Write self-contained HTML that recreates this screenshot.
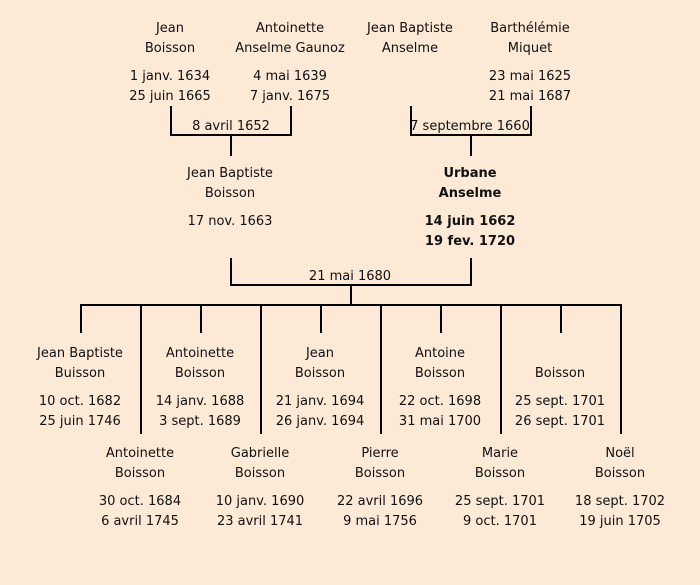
<!DOCTYPE html>
<html><head><meta charset="utf-8"><style>
body{margin:0;width:700px;height:585px;background:#fce9d6;position:relative;overflow:hidden;font-family:"Comic Sans MS","DejaVu Sans",sans-serif;font-size:13px;color:#111}
.t{position:absolute;width:160px;text-align:center;line-height:20px;white-space:nowrap;margin-top:2px}
.b{font-weight:bold}
.l{position:absolute;background:#000}
</style></head><body>
<!-- top row -->
<div class="t" style="left:90px;top:17px">Jean<br>Boisson</div>
<div class="t" style="left:90px;top:65px">1 janv. 1634<br>25 juin 1665</div>
<div class="t" style="left:210px;top:17px">Antoinette<br>Anselme Gaunoz</div>
<div class="t" style="left:210px;top:65px">4 mai 1639<br>7 janv. 1675</div>
<div class="t" style="left:330px;top:17px">Jean Baptiste<br>Anselme</div>
<div class="t" style="left:450px;top:17px">Barthélémie<br>Miquet</div>
<div class="t" style="left:450px;top:65px">23 mai 1625<br>21 mai 1687</div>

<div class="l" style="left:170px;top:106px;width:2px;height:30px"></div>
<div class="l" style="left:290px;top:106px;width:2px;height:30px"></div>
<div class="l" style="left:170px;top:134px;width:122px;height:2px"></div>
<div class="l" style="left:230px;top:134px;width:2px;height:22px"></div>
<div class="t" style="left:151px;top:115px">8 avril 1652</div>

<div class="l" style="left:410px;top:106px;width:2px;height:30px"></div>
<div class="l" style="left:530px;top:106px;width:2px;height:30px"></div>
<div class="l" style="left:410px;top:134px;width:122px;height:2px"></div>
<div class="l" style="left:470px;top:134px;width:2px;height:22px"></div>
<div class="t" style="left:390px;top:115px">7 septembre 1660</div>

<!-- middle -->
<div class="t" style="left:150px;top:162px">Jean Baptiste<br>Boisson</div>
<div class="t" style="left:150px;top:210px">17 nov. 1663</div>
<div class="t b" style="left:390px;top:162px">Urbane<br>Anselme</div>
<div class="t b" style="left:390px;top:210px">14 juin 1662<br>19 fev. 1720</div>

<div class="l" style="left:230px;top:258px;width:2px;height:28px"></div>
<div class="l" style="left:470px;top:258px;width:2px;height:28px"></div>
<div class="l" style="left:230px;top:284px;width:242px;height:2px"></div>
<div class="t" style="left:270px;top:265px">21 mai 1680</div>
<div class="l" style="left:350px;top:284px;width:2px;height:22px"></div>
<div class="l" style="left:80px;top:304px;width:542px;height:2px"></div>

<div class="l" style="left:80px;top:304px;width:2px;height:29px"></div>
<div class="l" style="left:200px;top:304px;width:2px;height:29px"></div>
<div class="l" style="left:320px;top:304px;width:2px;height:29px"></div>
<div class="l" style="left:440px;top:304px;width:2px;height:29px"></div>
<div class="l" style="left:560px;top:304px;width:2px;height:29px"></div>
<div class="l" style="left:140px;top:304px;width:2px;height:130px"></div>
<div class="l" style="left:260px;top:304px;width:2px;height:130px"></div>
<div class="l" style="left:380px;top:304px;width:2px;height:130px"></div>
<div class="l" style="left:500px;top:304px;width:2px;height:130px"></div>
<div class="l" style="left:620px;top:304px;width:2px;height:130px"></div>

<!-- children row 1 -->
<div class="t" style="left:0px;top:342px">Jean Baptiste<br>Buisson</div>
<div class="t" style="left:0px;top:390px">10 oct. 1682<br>25 juin 1746</div>
<div class="t" style="left:120px;top:342px">Antoinette<br>Boisson</div>
<div class="t" style="left:120px;top:390px">14 janv. 1688<br>3 sept. 1689</div>
<div class="t" style="left:240px;top:342px">Jean<br>Boisson</div>
<div class="t" style="left:240px;top:390px">21 janv. 1694<br>26 janv. 1694</div>
<div class="t" style="left:360px;top:342px">Antoine<br>Boisson</div>
<div class="t" style="left:360px;top:390px">22 oct. 1698<br>31 mai 1700</div>
<div class="t" style="left:480px;top:362px">Boisson</div>
<div class="t" style="left:480px;top:390px">25 sept. 1701<br>26 sept. 1701</div>

<!-- children row 2 -->
<div class="t" style="left:60px;top:442px">Antoinette<br>Boisson</div>
<div class="t" style="left:60px;top:490px">30 oct. 1684<br>6 avril 1745</div>
<div class="t" style="left:180px;top:442px">Gabrielle<br>Boisson</div>
<div class="t" style="left:180px;top:490px">10 janv. 1690<br>23 avril 1741</div>
<div class="t" style="left:300px;top:442px">Pierre<br>Boisson</div>
<div class="t" style="left:300px;top:490px">22 avril 1696<br>9 mai 1756</div>
<div class="t" style="left:420px;top:442px">Marie<br>Boisson</div>
<div class="t" style="left:420px;top:490px">25 sept. 1701<br>9 oct. 1701</div>
<div class="t" style="left:540px;top:442px">Noël<br>Boisson</div>
<div class="t" style="left:540px;top:490px">18 sept. 1702<br>19 juin 1705</div>
</body></html>
